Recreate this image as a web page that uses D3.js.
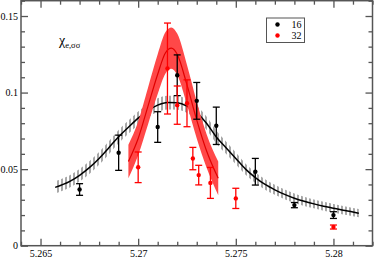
<!DOCTYPE html>
<html>
<head>
<meta charset="utf-8">
<script src="https://cdn.jsdelivr.net/npm/d3@7"></script>
<style>
  body { margin: 0; background: #fff; }
  svg { display: block; }
  svg text { font-family: "Liberation Serif", "Times New Roman", Times, "DejaVu Serif", serif; }
</style>
</head>
<body>
<div id="chart"></div>
<script>
// L = 16 data points
const blackX = [5.267, 5.269, 5.271, 5.272, 5.273, 5.274, 5.276, 5.278, 5.28];
const blackY = [0.0367, 0.0607, 0.0775, 0.1113, 0.0946, 0.0783, 0.0483, 0.0265, 0.0200];
const blackErr = [0.0038, 0.0115, 0.0100, 0.0133, 0.0120, 0.0122, 0.0087, 0.0017, 0.0022];

// L = 32 data points
const redX = [5.270, 5.2715, 5.272, 5.2725, 5.2728, 5.2731, 5.2737, 5.275, 5.280];
const redY = [0.0512, 0.1157, 0.0918, 0.0930, 0.0569, 0.0461, 0.0410, 0.0309, 0.0122];
const redErr = [0.0100, 0.0297, 0.0125, 0.0153, 0.0073, 0.0064, 0.0101, 0.0066, 0.0013];

// reweighted curve, L = 16
const blackCurveX = [5.26575, 5.2665, 5.2670, 5.2675, 5.2680, 5.2685, 5.2690, 5.2695, 5.2700, 5.2705,
  5.2710, 5.2715, 5.2720, 5.2725, 5.2730, 5.2735, 5.2740, 5.2745, 5.2750, 5.2755,
  5.2760, 5.2765, 5.2770, 5.2775, 5.2780, 5.2785, 5.2790, 5.2795, 5.2800, 5.2805,
  5.2810, 5.2813];
const blackCurveY = [0.0381, 0.0420, 0.0460, 0.0510, 0.0570, 0.0640, 0.0712, 0.0774, 0.0833, 0.0882,
  0.0918, 0.0935, 0.0933, 0.0912, 0.0868, 0.0800, 0.0710, 0.0640, 0.0570, 0.0500,
  0.0445, 0.0400, 0.0365, 0.0335, 0.0310, 0.0290, 0.0273, 0.0258, 0.0245, 0.0232,
  0.0220, 0.0212];
const blackCurveErr = [0.0040, 0.0040, 0.0041, 0.0041, 0.0042, 0.0042, 0.0043, 0.0043, 0.0044, 0.0044,
  0.0045, 0.0045, 0.0045, 0.0045, 0.0044, 0.0043, 0.0042, 0.0040, 0.0038, 0.0036,
  0.0035, 0.0034, 0.0033, 0.0032, 0.0031, 0.0030, 0.0029, 0.0029, 0.0028, 0.0028,
  0.0027, 0.0027];

// reweighted curve, L = 32
const redCurveX = [5.2695, 5.2700, 5.2705, 5.2710, 5.2714, 5.2717, 5.2720, 5.2725, 5.2730, 5.2735, 5.2741];
const redCurveY = [0.055, 0.070, 0.091, 0.112, 0.126, 0.129, 0.125, 0.105, 0.082, 0.062, 0.044];
const redCurveErr = [0.011, 0.011, 0.012, 0.013, 0.0135, 0.0135, 0.0135, 0.013, 0.012, 0.011, 0.011];

const xMajor = [5.265, 5.27, 5.275, 5.28];
const xLabels = ['5.265', '5.27', '5.275', '5.28'];
const yMajor = [0, 0.05, 0.1, 0.15];
const yLabels = ['0', '0.05', '0.1', '0.15'];
const seriesNames = ['16', '32'];

const width = 374;
const height = 258;
const margin = { top: 0.7, right: 1.5, bottom: 12.3, left: 21 };
const serif = '"Liberation Serif", "Times New Roman", Times, "DejaVu Serif", serif';

const x = d3.scaleLinear().domain([5.264, 5.282]).range([margin.left, width - margin.right]);
const y = d3.scaleLinear().domain([0, 0.16]).range([height - margin.bottom, margin.top]);

const xMinor = d3.range(5.264, 5.2825, 0.001).filter((v) => !xMajor.some((m) => Math.abs(m - v) < 1e-6));
const yMinor = d3.range(0, 0.1605, 0.01).filter((v) => !yMajor.some((m) => Math.abs(m - v) < 1e-6));

const svg = d3.select('#chart').append('svg')
  .attr('width', width)
  .attr('height', height);

const defs = svg.append('defs');
defs.append('pattern')
  .attr('id', 'hatch')
  .attr('patternUnits', 'userSpaceOnUse')
  .attr('width', 4)
  .attr('height', 10)
  .append('line')
  .attr('x1', 2).attr('x2', 2)
  .attr('y1', 0).attr('y2', 10)
  .attr('stroke', '#6e6e6e')
  .attr('stroke-width', 1.2);

const frameColor = '#555';

const blackCurve = blackCurveX.map((v, i) => ({ x: v, y: blackCurveY[i], e: blackCurveErr[i] }));
const redCurve = redCurveX.map((v, i) => ({ x: v, y: redCurveY[i], e: redCurveErr[i] }));

const area = d3.area()
  .x((d) => x(d.x))
  .y0((d) => y(d.y - d.e))
  .y1((d) => y(d.y + d.e))
  .curve(d3.curveMonotoneX);

const line = d3.line()
  .x((d) => x(d.x))
  .y((d) => y(d.y))
  .curve(d3.curveMonotoneX);

// hatched band + black curve
svg.append('path')
  .datum(blackCurve)
  .attr('d', area)
  .attr('fill', 'url(#hatch)');

svg.append('path')
  .datum(blackCurve)
  .attr('d', line)
  .attr('fill', 'none')
  .attr('stroke', '#000')
  .attr('stroke-width', 1.5);

// red band + red curve
svg.append('path')
  .datum(redCurve)
  .attr('d', area)
  .attr('fill', '#ff4848');

svg.append('path')
  .datum(redCurve)
  .attr('d', line)
  .attr('fill', 'none')
  .attr('stroke', '#e00000')
  .attr('stroke-width', 1.2);

// error bars and points
function drawSet (xs, ys, errs, color) {
  const data = xs.map((v, i) => ({ x: v, y: ys[i], e: errs[i] }));
  const g = svg.append('g')
    .attr('stroke', color)
    .attr('fill', color)
    .attr('stroke-width', 1.3);
  const cap = 3.5;

  g.selectAll('line.bar').data(data).enter().append('line')
    .attr('x1', (d) => x(d.x)).attr('x2', (d) => x(d.x))
    .attr('y1', (d) => y(d.y - d.e)).attr('y2', (d) => y(d.y + d.e));
  g.selectAll('line.top').data(data).enter().append('line')
    .attr('x1', (d) => x(d.x) - cap).attr('x2', (d) => x(d.x) + cap)
    .attr('y1', (d) => y(d.y + d.e)).attr('y2', (d) => y(d.y + d.e));
  g.selectAll('line.bot').data(data).enter().append('line')
    .attr('x1', (d) => x(d.x) - cap).attr('x2', (d) => x(d.x) + cap)
    .attr('y1', (d) => y(d.y - d.e)).attr('y2', (d) => y(d.y - d.e));
  g.selectAll('circle').data(data).enter().append('circle')
    .attr('cx', (d) => x(d.x))
    .attr('cy', (d) => y(d.y))
    .attr('r', 2.2)
    .attr('stroke', 'none');
}

drawSet(blackX, blackY, blackErr, '#000');
drawSet(redX, redY, redErr, '#ff0000');

// axes
const x0 = margin.left;
const x1 = width - margin.right;
const y0 = height - margin.bottom;
const y1 = margin.top;

function styleAxis (g) {
  g.attr('font-family', serif).attr('font-size', 10);
  g.select('.domain').remove();
  g.selectAll('.tick line').attr('stroke', frameColor).attr('stroke-width', 1.3);
  g.selectAll('.tick text')
    .attr('fill', '#000')
    .style('font-size', '10px')
    .style('font-family', serif);
}

svg.append('g')
  .attr('transform', `translate(0,${y0})`)
  .call(d3.axisBottom(x).tickValues(xMajor).tickSize(-7).tickPadding(4)
    .tickFormat((d, i) => xLabels[i]))
  .call(styleAxis);
svg.append('g')
  .attr('transform', `translate(0,${y0})`)
  .call(d3.axisBottom(x).tickValues(xMinor).tickSize(-4).tickFormat(''))
  .call(styleAxis);
svg.append('g')
  .attr('transform', `translate(0,${y1})`)
  .call(d3.axisTop(x).tickValues(xMajor).tickSize(-7).tickFormat(''))
  .call(styleAxis);
svg.append('g')
  .attr('transform', `translate(0,${y1})`)
  .call(d3.axisTop(x).tickValues(xMinor).tickSize(-4).tickFormat(''))
  .call(styleAxis);

svg.append('g')
  .attr('transform', `translate(${x0},0)`)
  .call(d3.axisLeft(y).tickValues(yMajor).tickSize(-7).tickPadding(3)
    .tickFormat((d, i) => yLabels[i]))
  .call(styleAxis);
svg.append('g')
  .attr('transform', `translate(${x0},0)`)
  .call(d3.axisLeft(y).tickValues(yMinor).tickSize(-4).tickFormat(''))
  .call(styleAxis);
svg.append('g')
  .attr('transform', `translate(${x1},0)`)
  .call(d3.axisRight(y).tickValues(yMajor).tickSize(-7).tickFormat(''))
  .call(styleAxis);
svg.append('g')
  .attr('transform', `translate(${x1},0)`)
  .call(d3.axisRight(y).tickValues(yMinor).tickSize(-4).tickFormat(''))
  .call(styleAxis);

svg.append('rect')
  .attr('x', x0).attr('y', y1)
  .attr('width', x1 - x0).attr('height', y0 - y1)
  .attr('fill', 'none')
  .attr('stroke', frameColor)
  .attr('stroke-width', 1.5);

// observable label
const label = svg.append('text')
  .attr('x', 59)
  .attr('y', 45)
  .attr('fill', '#000')
  .style('font-family', serif);
label.append('tspan').style('font-size', '14px').text('χ');
label.append('tspan').style('font-size', '8.5px').attr('dy', 2.5).text('e,σσ');

// legend
const legend = svg.append('g');
legend.append('rect')
  .attr('x', 266.5).attr('y', 18)
  .attr('width', 38).attr('height', 24.5)
  .attr('fill', '#fff')
  .attr('stroke', frameColor)
  .attr('stroke-width', 1);
[['#000', 24.5], ['#ff0000', 35.5]].forEach(([color, cy], i) => {
  legend.append('circle')
    .attr('cx', 277.5).attr('cy', cy).attr('r', 2.2)
    .attr('fill', color);
  legend.append('text')
    .attr('x', 301.5).attr('y', cy + 3.5)
    .attr('text-anchor', 'end')
    .style('font-size', '10px')
    .style('font-family', serif)
    .text(seriesNames[i]);
});
</script>
</body>
</html>
